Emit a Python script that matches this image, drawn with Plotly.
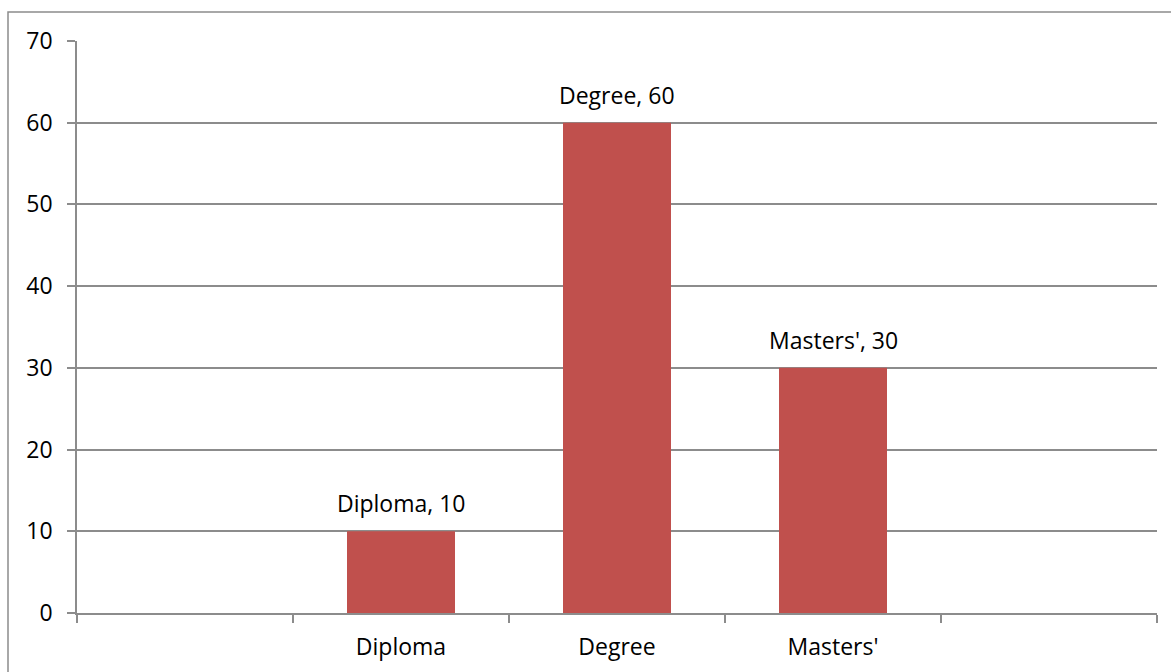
import plotly.graph_objects as go

# Qualification categories (blank slots at both ends of the axis)
categories = [" ", "Diploma", "Degree", "Masters'", "  "]
values = [None, 10, 60, 30, None]
y_ticks = [0, 10, 20, 30, 40, 50, 60, 70]

BAR_COLOR = "#C0504D"
GRID = "#8C8C8C"
FONT = "Open Sans, Liberation Sans, sans-serif"
SIZE = 23

fig = go.Figure()
fig.add_trace(go.Bar(
    x=categories,
    y=values,
    marker=dict(color=BAR_COLOR, line=dict(width=0)),
    width=0.5,
    hoverinfo="skip",
))

# Data labels "Name, value" above each bar
for c, v in zip(categories, values):
    if v is None:
        continue
    fig.add_annotation(
        x=c, y=v, text=f"{c}, {v}", showarrow=False,
        yanchor="bottom", yshift=10,
        font=dict(family=FONT, size=SIZE, color="#000000"),
    )

fig.update_layout(
    width=1171, height=672,
    margin=dict(l=77, r=14, t=41, b=59),
    paper_bgcolor="white", plot_bgcolor="white",
    showlegend=False,
    font=dict(family=FONT, size=SIZE, color="#000000"),
    bargap=0.5,
    shapes=[dict(
        type="rect", xref="paper", yref="paper",
        x0=-69 / 1080, x1=1.2, y0=-0.3, y1=1 + 29 / 572,
        line=dict(color="#8C8C8C", width=1.5), layer="below",
    )],
)

fig.update_xaxes(
    type="category", categoryorder="array", categoryarray=categories,
    range=[-0.5, 4.5], automargin=False,
    showline=True, linecolor=GRID, linewidth=1.5,
    ticks="outside", tickson="boundaries", ticklen=8, tickcolor=GRID, tickwidth=1.5,
    ticklabelstandoff=13,
    showgrid=False, zeroline=False,
    tickfont=dict(family=FONT, size=SIZE, color="#000000"),
)
fig.update_yaxes(
    range=[0, 70], tickvals=y_ticks, automargin=False,
    showline=True, linecolor=GRID, linewidth=1.5,
    ticks="outside", ticklen=8, tickcolor=GRID, tickwidth=1.5,
    ticklabelstandoff=10,
    showgrid=True, gridcolor=GRID, gridwidth=1.5,
    zeroline=False,
    tickfont=dict(family=FONT, size=SIZE, color="#000000"),
)

fig.write_html("out.html")
